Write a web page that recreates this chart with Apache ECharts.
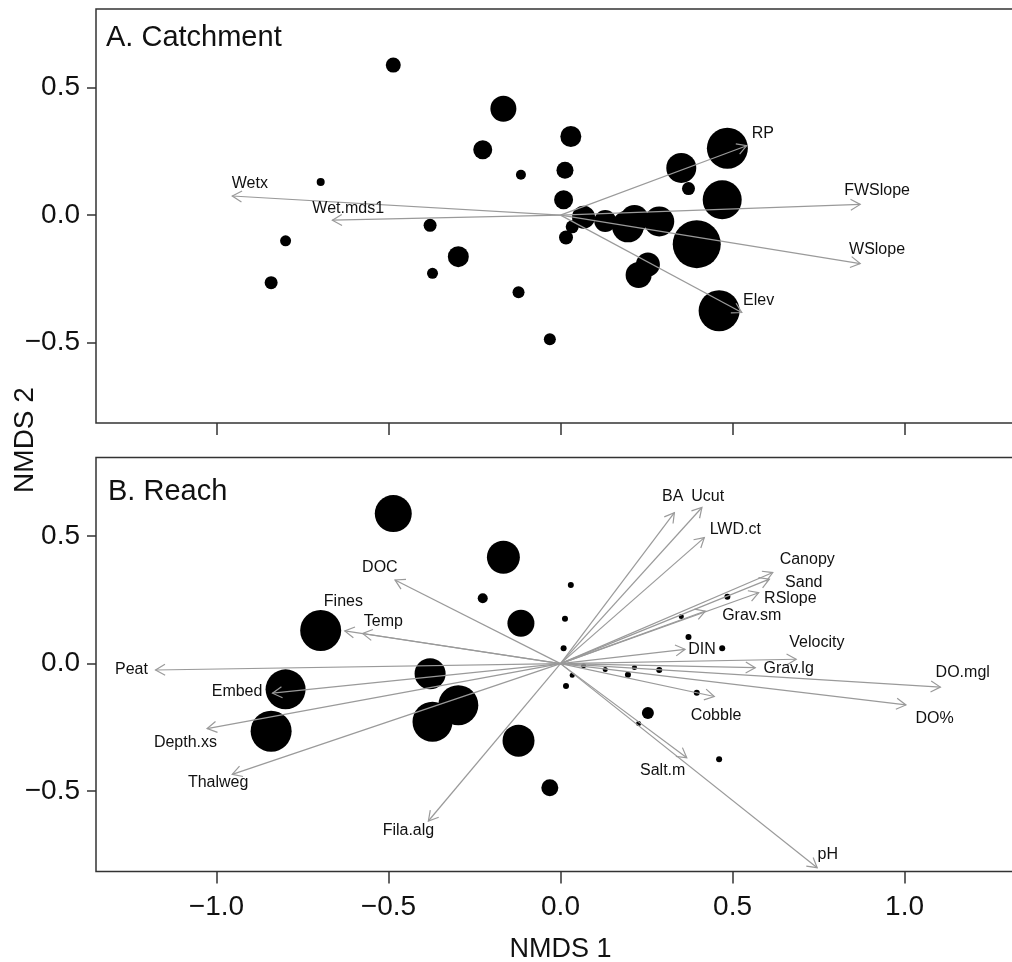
<!DOCTYPE html>
<html>
<head>
<meta charset="utf-8">
<script src="https://cdn.jsdelivr.net/npm/echarts@6/dist/echarts.min.js"></script>
<style>
  html, body { margin: 0; padding: 0; background: #fff; }
  #myCanvas { width: 1012px; height: 962px; }
</style>
</head>
<body>
<div id="myCanvas"></div>
<script>
// Site scores on the two NMDS axes (same ordination in both panels)
var siteX = [-0.486, -0.166, -0.226, -0.697, -0.379, -0.799, -0.297, -0.372, -0.841, -0.115,
             -0.122, -0.031, 0.030, 0.013, 0.009, 0.067, 0.034, 0.016, 0.130, 0.196,
             0.215, 0.287, 0.351, 0.372, 0.485, 0.470, 0.396, 0.227, 0.254, 0.461];
var siteY = [0.588, 0.417, 0.256, 0.130, -0.040, -0.101, -0.163, -0.228, -0.265, 0.158,
             -0.302, -0.487, 0.308, 0.176, 0.060, -0.008, -0.046, -0.088, -0.023, -0.044,
             -0.015, -0.025, 0.185, 0.104, 0.262, 0.060, -0.114, -0.235, -0.194, -0.375];

// bubble weights for each panel
var weightA = [1.5, 2.6, 1.9, 0.8, 1.3, 1.1, 2.1, 1.1, 1.3, 1.0,
               1.2, 1.2, 2.1, 1.7, 1.9, 2.3, 1.3, 1.4, 2.2, 3.2,
               2.8, 3.0, 3.0, 1.3, 4.1, 3.9, 4.8, 2.6, 2.4, 4.1];
var weightB = [3.7, 3.3, 1.0, 4.1, 3.1, 4.0, 4.0, 4.0, 4.1, 2.7,
               3.2, 1.7, 0.6, 0.6, 0.6, 0.5, 0.5, 0.6, 0.5, 0.6,
               0.5, 0.6, 0.5, 0.6, 0.6, 0.6, 0.6, 0.5, 1.2, 0.6];

// A. Catchment vectors
var catchNames = ['Wetx', 'Wet.mds1', 'RP', 'FWSlope', 'WSlope', 'Elev'];
var catchX = [-0.954, -0.663, 0.541, 0.871, 0.871, 0.527];
var catchY = [0.075, -0.020, 0.272, 0.042, -0.190, -0.382];
var catchLabX = [-0.903, -0.617, 0.588, 0.920, 0.920, 0.576];
var catchLabY = [0.122, 0.026, 0.320, 0.098, -0.135, -0.337];

// B. Reach vectors
var reachNames = ['DOC', 'Fines', 'Temp', 'Peat', 'Embed', 'Depth.xs', 'Thalweg', 'Fila.alg',
                  'BA', 'Ucut', 'LWD.ct', 'Canopy', 'Sand', 'RSlope', 'Grav.sm', 'DIN',
                  'Velocity', 'Grav.lg', 'DO.mgl', 'DO%', 'Cobble', 'Salt.m', 'pH'];
var reachX = [-0.481, -0.627, -0.575, -1.177, -0.837, -1.027, -0.954, -0.384,
              0.331, 0.411, 0.418, 0.617, 0.607, 0.576, 0.421, 0.362,
              0.685, 0.566, 1.104, 1.004, 0.447, 0.367, 0.746];
var reachY = [0.328, 0.128, 0.118, -0.025, -0.116, -0.255, -0.434, -0.617,
              0.592, 0.612, 0.494, 0.357, 0.331, 0.278, 0.206, 0.056,
              0.017, -0.016, -0.092, -0.162, -0.129, -0.369, -0.800];
var reachLabX = [-0.525, -0.631, -0.515, -1.247, -0.940, -1.090, -0.995, -0.442,
                 0.326, 0.428, 0.508, 0.717, 0.707, 0.668, 0.556, 0.411,
                 0.745, 0.663, 1.169, 1.087, 0.452, 0.297, 0.777];
var reachLabY = [0.376, 0.243, 0.163, -0.022, -0.111, -0.310, -0.467, -0.656,
                 0.655, 0.655, 0.524, 0.409, 0.318, 0.256, 0.187, 0.056,
                 0.082, -0.020, -0.035, -0.216, -0.205, -0.421, -0.748];

var xTicks = [-1.0, -0.5, 0.0, 0.5, 1.0];
var yTicks = [-0.5, 0.0, 0.5];

var FONT = '"Liberation Sans", Arial, sans-serif';
var ARROW = '#9a9a9a';

function fmt(v) {
  return v.toFixed(1).replace('-', '\u2212');
}

// draws an arrow from origin plus its label, through the axis scales
function arrowRenderer(names) {
  return function (params, api) {
    var o = api.coord([0, 0]);
    var e = api.coord([api.value(0), api.value(1)]);
    var l = api.coord([api.value(2), api.value(3)]);
    var ang = Math.atan2(e[1] - o[1], e[0] - o[0]);
    var h = 11, a = Math.PI / 6;
    var p1 = [e[0] - h * Math.cos(ang - a), e[1] - h * Math.sin(ang - a)];
    var p2 = [e[0] - h * Math.cos(ang + a), e[1] - h * Math.sin(ang + a)];
    return {
      type: 'group',
      children: [
        { type: 'line', shape: { x1: o[0], y1: o[1], x2: e[0], y2: e[1] },
          style: { stroke: ARROW, lineWidth: 1.2 } },
        { type: 'polyline', shape: { points: [p1, e, p2] },
          style: { stroke: ARROW, fill: null, lineWidth: 1.2 } },
        { type: 'text', x: l[0], y: l[1],
          style: { text: names[params.dataIndex], fill: '#111', fontSize: 16,
                   fontFamily: FONT, align: 'center', verticalAlign: 'middle' } }
      ]
    };
  };
}

function xAxisFor(idx, withLabels) {
  return {
    type: 'value', gridIndex: idx, min: -1.35, max: 1.35,
    axisLine: { show: false, onZero: false },
    axisTick: { show: true, length: 12, customValues: xTicks,
                lineStyle: { color: '#333', width: 1.5 } },
    axisLabel: { show: withLabels, customValues: xTicks, formatter: fmt,
                 fontSize: 28, color: '#111', fontFamily: FONT, margin: 22 },
    splitLine: { show: false },
    name: withLabels ? 'NMDS 1' : '', nameLocation: 'middle', nameGap: 65,
    nameTextStyle: { fontSize: 27, color: '#111', fontFamily: FONT }
  };
}

function yAxisFor(idx) {
  return {
    type: 'value', gridIndex: idx, min: -0.815, max: 0.808,
    axisLine: { show: false, onZero: false },
    axisTick: { show: true, length: 9, customValues: yTicks,
                lineStyle: { color: '#333', width: 1.5 } },
    axisLabel: { customValues: yTicks, formatter: fmt,
                 fontSize: 28, color: '#111', fontFamily: FONT, margin: 16 },
    splitLine: { show: false }
  };
}

function siteData(weights) {
  return siteX.map(function (x, i) { return [x, siteY[i], weights[i]]; });
}

function vecData(xs, ys, lx, ly) {
  return xs.map(function (x, i) { return [x, ys[i], lx[i], ly[i]]; });
}

var chart = echarts.init(document.getElementById('myCanvas'), null, { renderer: 'canvas' });

var option = {
  backgroundColor: '#fff',
  animation: false,
  grid: [
    { left: 96, top: 9, width: 929, height: 414, show: true, outerBoundsMode: 'none',
      containLabel: false, borderColor: '#333', borderWidth: 1.5, backgroundColor: 'transparent' },
    { left: 96, top: 457.5, width: 929, height: 414, show: true, outerBoundsMode: 'none',
      containLabel: false, borderColor: '#333', borderWidth: 1.5, backgroundColor: 'transparent' }
  ],
  xAxis: [xAxisFor(0, false), xAxisFor(1, true)],
  yAxis: [yAxisFor(0), yAxisFor(1)],
  graphic: [
    { type: 'text', x: 106, y: 38,
      style: { text: 'A. Catchment', fontSize: 29, fill: '#111', fontFamily: FONT,
               align: 'left', verticalAlign: 'middle' } },
    { type: 'text', x: 108, y: 492,
      style: { text: 'B. Reach', fontSize: 29, fill: '#111', fontFamily: FONT,
               align: 'left', verticalAlign: 'middle' } },
    { type: 'text', x: 25, y: 440, rotation: Math.PI / 2,
      style: { text: 'NMDS 2', fontSize: 28, fill: '#111', fontFamily: FONT,
               align: 'center', verticalAlign: 'middle' } }
  ],
  series: [
    { type: 'scatter', xAxisIndex: 0, yAxisIndex: 0, data: siteData(weightA),
      symbolSize: function (v) { return v[2] * 10; },
      itemStyle: { color: '#000', opacity: 1 }, emphasis: { disabled: true }, z: 2 },
    { type: 'custom', xAxisIndex: 0, yAxisIndex: 0,
      data: vecData(catchX, catchY, catchLabX, catchLabY),
      renderItem: arrowRenderer(catchNames), z: 3 },
    { type: 'scatter', xAxisIndex: 1, yAxisIndex: 1, data: siteData(weightB),
      symbolSize: function (v) { return v[2] * 10; },
      itemStyle: { color: '#000', opacity: 1 }, emphasis: { disabled: true }, z: 2 },
    { type: 'custom', xAxisIndex: 1, yAxisIndex: 1,
      data: vecData(reachX, reachY, reachLabX, reachLabY),
      renderItem: arrowRenderer(reachNames), z: 3 }
  ]
};

chart.setOption(option);
</script>
</body>
</html>
